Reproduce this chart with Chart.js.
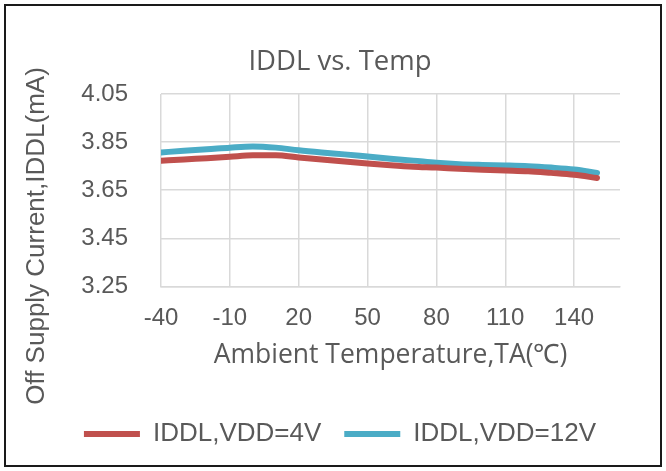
<!DOCTYPE html>
<html>
<head>
<meta charset="utf-8">
<script src="https://cdn.jsdelivr.net/npm/chart.js@4.4.1/dist/chart.umd.min.js"></script>
<style>
  html, body { margin: 0; padding: 0; background: #fff; }
  #c { display: block; }
</style>
</head>
<body>
<canvas id="c" width="666" height="471"></canvas>
<script>
// ---- data ----
const titleText = 'IDDL vs. Temp';
const xTitle = 'Ambient Temperature,TA(℃)';
const yTitle = 'Off Supply Current,IDDL(mA)';
const temps = [-40, -30, -20, -10, 0, 10, 20, 30, 40, 50, 60, 70, 80, 90, 100, 110, 120, 130, 140, 150];
const iddl4V = [3.772, 3.778, 3.783, 3.789, 3.795, 3.795, 3.786, 3.778, 3.769, 3.761, 3.754, 3.748, 3.744, 3.739, 3.735, 3.732, 3.729, 3.722, 3.714, 3.701];
const iddl12V = [3.807, 3.814, 3.820, 3.827, 3.832, 3.827, 3.816, 3.807, 3.799, 3.790, 3.781, 3.773, 3.764, 3.758, 3.755, 3.753, 3.750, 3.744, 3.736, 3.722];
const seriesNames = ['IDDL,VDD=4V', 'IDDL,VDD=12V'];
const xTicks = [-40, -10, 20, 50, 80, 110, 140];
const yTicks = [3.25, 3.45, 3.65, 3.85, 4.05];

const textColor = '#595959';
const gridColor = '#D9D9D9';

const framePlugin = {
  id: 'frame',
  beforeDraw(chart) {
    const ctx = chart.ctx;
    ctx.save();
    ctx.fillStyle = '#fff';
    ctx.fillRect(0, 0, chart.width, chart.height);
    ctx.restore();
  },
  afterDraw(chart) {
    const ctx = chart.ctx;
    ctx.save();
    ctx.strokeStyle = '#1a1a1a';
    ctx.lineWidth = 2;
    ctx.strokeRect(5, 5, 656, 461);
    // y axis title, centered on the whole chart
    ctx.translate(37, 236);
    ctx.rotate(-Math.PI / 2);
    ctx.font = '26px "Liberation Sans", Arial, sans-serif';
    ctx.fillStyle = textColor;
    ctx.textAlign = 'center';
    ctx.textBaseline = 'middle';
    ctx.fillText(yTitle, 0, 0);
    ctx.restore();
  }
};

new Chart(document.getElementById('c'), {
  type: 'line',
  data: {
    datasets: [
      {
        label: seriesNames[0],
        data: temps.map((t, i) => ({ x: t, y: iddl4V[i] })),
        borderColor: '#C0504D',
        backgroundColor: '#C0504D',
        borderWidth: 6,
        borderCapStyle: 'round',
        pointRadius: 0,
        cubicInterpolationMode: 'monotone'
      },
      {
        label: seriesNames[1],
        data: temps.map((t, i) => ({ x: t, y: iddl12V[i] })),
        borderColor: '#4BACC6',
        backgroundColor: '#4BACC6',
        borderWidth: 6,
        borderCapStyle: 'round',
        pointRadius: 0,
        cubicInterpolationMode: 'monotone'
      }
    ]
  },
  options: {
    responsive: false,
    animation: false,
    events: [],
    layout: { padding: { left: 60, right: 46, top: 10, bottom: 14 } },
    plugins: {
      title: {
        display: true,
        text: titleText,
        color: textColor,
        font: { family: '"Open Sans", sans-serif', size: 27.5, weight: 'normal' },
        padding: { top: 36, bottom: 15 }
      },
      legend: {
        position: 'bottom',
        labels: {
          usePointStyle: true,
          pointStyle: 'line',
          pointStyleWidth: 56,
          color: textColor,
          font: { family: '"Liberation Sans", Arial, sans-serif', size: 26 },
          padding: 23
        }
      },
      tooltip: { enabled: false }
    },
    scales: {
      x: {
        type: 'linear',
        min: -40,
        max: 160,
        afterBuildTicks(scale) { scale.ticks = xTicks.map(v => ({ value: v })); },
        ticks: {
          color: textColor,
          font: { family: '"Liberation Sans", Arial, sans-serif', size: 24 },
          padding: 18,
          maxRotation: 0,
          callback: v => String(v)
        },
        grid: { color: gridColor, lineWidth: 1.5, drawTicks: false },
        border: { color: gridColor, width: 1.5 },
        title: {
          display: true,
          text: xTitle,
          color: textColor,
          font: { family: '"Open Sans", sans-serif', size: 26.5 },
          padding: { top: -12, bottom: 27 }
        }
      },
      y: {
        min: 3.25,
        max: 4.05,
        afterBuildTicks(scale) { scale.ticks = yTicks.map(v => ({ value: v })); },
        afterFit(scale) { scale.width = 101; },
        ticks: {
          color: textColor,
          font: { family: '"Liberation Sans", Arial, sans-serif', size: 24 },
          padding: 33,
          callback: v => Number(v).toFixed(2)
        },
        grid: { color: gridColor, lineWidth: 1.5, drawTicks: false },
        border: { display: false }
      }
    }
  },
  plugins: [framePlugin]
});
</script>
</body>
</html>
